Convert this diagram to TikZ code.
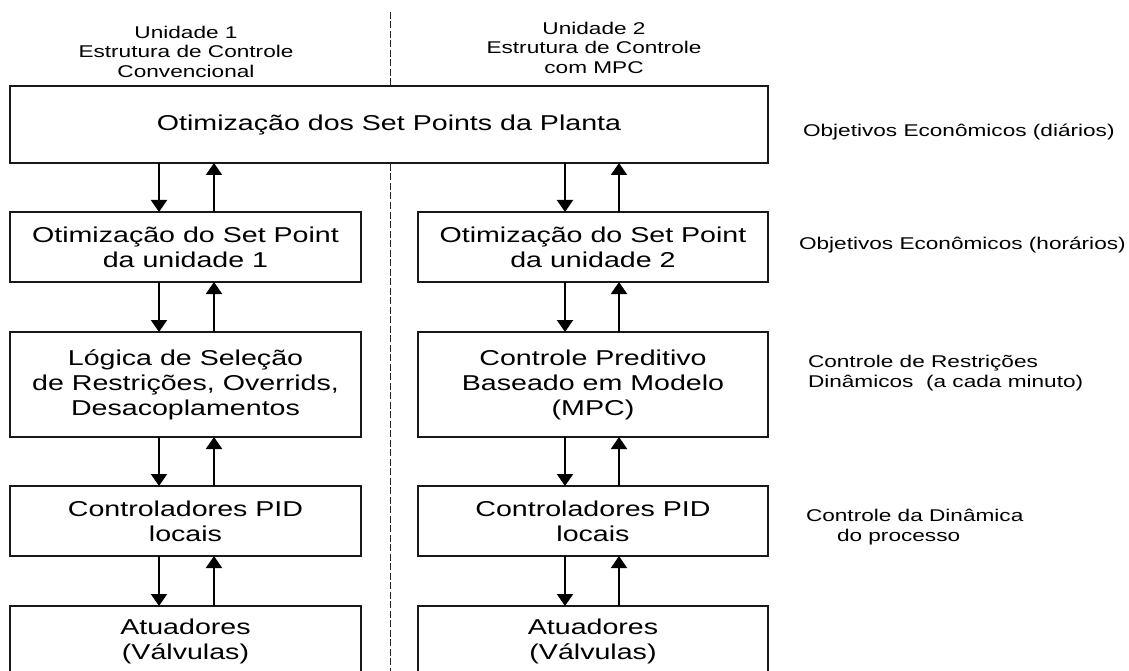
\documentclass[tikz,border=0pt]{standalone}
\usepackage{fontspec}
\setmainfont[FakeStretch=1.33]{Liberation Sans}
\usetikzlibrary{arrows.meta}
\begin{document}
\begin{tikzpicture}[x=1pt,y=-1pt,
  box/.style={draw=black!90, line width=1.3pt, fill=white, inner sep=0pt, outer sep=0pt,
              align=center, font=\fontsize{21.5}{25}\selectfont},
  colL/.style={box, minimum width=351pt},
  colR/.style={box, minimum width=350pt},
  arr/.style={line width=2pt, -{Triangle[width=16pt,length=12pt]}},
  lab/.style={inner sep=0pt, outer sep=0pt, font=\fontsize{17}{19.5}\selectfont},
  dashline/.style={line width=1pt, draw=black!85, dash pattern=on 7pt off 2.5pt}]

\useasboundingbox (0,0) rectangle (1129,671);
\clip (0,0) rectangle (1129,671);

% dividing dashed line
\coordinate (dtop) at (390,12);
\coordinate (dbot) at (390,671);
\draw[dashline] (dtop) -- (dbot);

% column headers
\node[lab, align=center, anchor=north] (h1) at (186,25.8)
  {Unidade 1\\Estrutura de Controle\\Convencional};
\node[lab, align=center, anchor=north] (h2) at (594,21.8)
  {Unidade 2\\Estrutura de Controle\\com MPC};

% boxes
\node[box, minimum width=758pt, minimum height=77pt] (top) at (389,124.5)
  {Otimização dos Set Points da Planta};

\node[colL, minimum height=70pt]  (L2) at (185.5,247)   {Otimização do Set Point\\da unidade 1};
\node[colR, minimum height=70pt]  (R2) at (593,247)     {Otimização do Set Point\\da unidade 2};
\node[colL, minimum height=105pt] (L3) at (185.5,384.5) {Lógica de Seleção\\de Restrições, Overrids,\\Desacoplamentos};
\node[colR, minimum height=105pt] (R3) at (593,384.5)   {Controle Preditivo\\Baseado em Modelo\\(MPC)};
\node[colL, minimum height=70pt]  (L4) at (185.5,521)   {Controladores PID\\locais};
\node[colR, minimum height=70pt]  (R4) at (593,521)     {Controladores PID\\locais};
\node[colL, minimum height=70pt]  (L5) at (185.5,641)   {Atuadores\\(Válvulas)};
\node[colR, minimum height=70pt]  (R5) at (593,641)     {Atuadores\\(Válvulas)};

% arrow columns
\coordinate (ld) at (159,0);
\coordinate (lu) at (214,0);
\coordinate (rd) at (565,0);
\coordinate (ru) at (619,0);

\draw[arr] (top.south -| ld) -- (L2.north -| ld);
\draw[arr] (L2.north -| lu) -- (top.south -| lu);
\draw[arr] (top.south -| rd) -- (R2.north -| rd);
\draw[arr] (R2.north -| ru) -- (top.south -| ru);

\draw[arr] (L2.south -| ld) -- (L3.north -| ld);
\draw[arr] (L3.north -| lu) -- (L2.south -| lu);
\draw[arr] (R2.south -| rd) -- (R3.north -| rd);
\draw[arr] (R3.north -| ru) -- (R2.south -| ru);

\draw[arr] (L3.south -| ld) -- (L4.north -| ld);
\draw[arr] (L4.north -| lu) -- (L3.south -| lu);
\draw[arr] (R3.south -| rd) -- (R4.north -| rd);
\draw[arr] (R4.north -| ru) -- (R3.south -| ru);

\draw[arr] (L4.south -| ld) -- (L5.north -| ld);
\draw[arr] (L5.north -| lu) -- (L4.south -| lu);
\draw[arr] (R4.south -| rd) -- (R5.north -| rd);
\draw[arr] (R5.north -| ru) -- (R4.south -| ru);

% level labels
\node[lab, anchor=base west] (o1) at (803,137) {Objetivos Econômicos (diários)};
\node[lab, anchor=base west] (o2) at (799,249) {Objetivos Econômicos (horários)};
\node[lab, anchor=north west, align=left, font=\fontsize{17}{20}\selectfont] (o3) at (808,354.8)
  {Controle de Restrições\\Dinâmicos\ \ (a cada minuto)};
\node[lab, anchor=north west, align=left, font=\fontsize{17}{20}\selectfont] (o4) at (806,508.8)
  {Controle da Dinâmica\\\hspace*{31pt}do processo};
\end{tikzpicture}
\end{document}
